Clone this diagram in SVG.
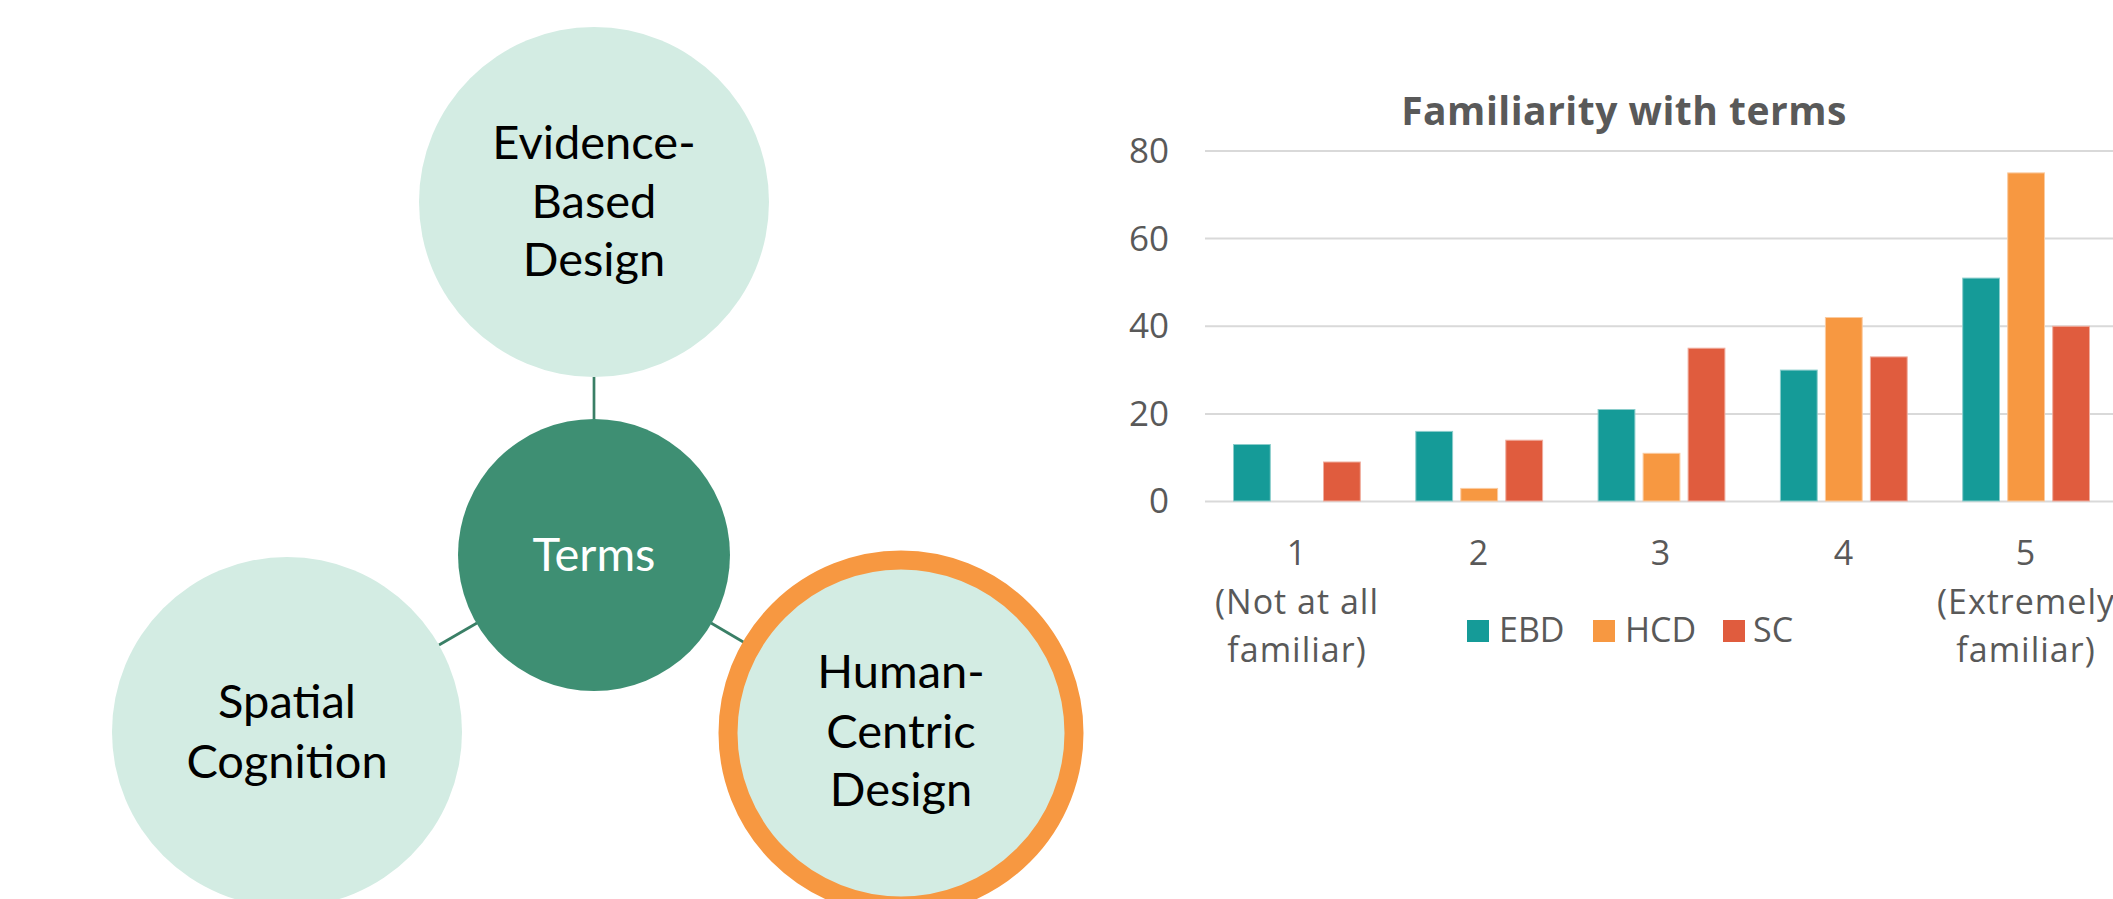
<svg xmlns="http://www.w3.org/2000/svg" width="2113" height="899" viewBox="0 0 2113 899">
<style>
.lt{fill:#D3ECE3}
.nt{font-family:Lato,"Open Sans","Liberation Sans",sans-serif;font-size:47px;fill:#000;text-anchor:middle}
.con{stroke:#3A7F66;stroke-width:2.7;fill:none}
.grid{stroke:#D9D9D9;stroke-width:2}
.ax{font-family:"Open Sans","Liberation Sans",sans-serif;font-size:34px;fill:#595959}
.ebd{fill:#159B98;stroke:#8ACDCB;stroke-width:1}
.hcd{fill:#F79841;stroke:#FBCBA0;stroke-width:1}
.sc{fill:#E05C3E;stroke:#F0AD9E;stroke-width:1}
</style>
<rect width="2113" height="899" fill="#fff"/>
<g id="connectors">
<line class="con" x1="594" y1="377" x2="594" y2="420"/>
<line class="con" x1="477" y1="623" x2="439" y2="645"/>
<line class="con" x1="711" y1="623" x2="745" y2="643"/>
</g>
<g id="node-ebd">
<circle class="lt" cx="594" cy="202" r="175"/>
<text class="nt" x="594" y="159">Evidence-</text>
<text class="nt" x="594" y="218">Based</text>
<text class="nt" x="594" y="276">Design</text>
</g>
<g id="node-terms">
<circle cx="594" cy="555" r="136" fill="#3E8F73"/>
<text class="nt" x="594" y="571" style="fill:#fff">Terms</text>
</g>
<g id="node-sc">
<circle class="lt" cx="287" cy="732" r="175"/>
<text class="nt" x="287" y="718">Spatial</text>
<text class="nt" x="287" y="778">Cognition</text>
</g>
<g id="node-hcd">
<circle class="lt" cx="901" cy="733" r="173" stroke="#F79841" stroke-width="19"/>
<text class="nt" x="901" y="688">Human-</text>
<text class="nt" x="901" y="748">Centric</text>
<text class="nt" x="901" y="806">Design</text>
</g>
<g id="chart">
<text x="1624" y="125" font-family="'Open Sans','Liberation Sans',sans-serif" font-size="39" font-weight="bold" fill="#595959" text-anchor="middle" letter-spacing="0.5">Familiarity with terms</text>
<g id="grid">
<line class="grid" x1="1205" y1="151" x2="2113" y2="151"/>
<line class="grid" x1="1205" y1="238.6" x2="2113" y2="238.6"/>
<line class="grid" x1="1205" y1="326.2" x2="2113" y2="326.2"/>
<line class="grid" x1="1205" y1="413.9" x2="2113" y2="413.9"/>
<line class="grid" x1="1205" y1="501.5" x2="2113" y2="501.5"/>
</g>
<g id="yaxis" class="ax" text-anchor="end" style="font-size:35px">
<text x="1169" y="163">80</text>
<text x="1169" y="250.5">60</text>
<text x="1169" y="338">40</text>
<text x="1169" y="425.5">20</text>
<text x="1169" y="513">0</text>
</g>
<g id="bars">
<rect class="ebd" x="1233.5" y="444.5" width="36.8" height="56.5"/>
<rect class="sc" x="1323.5" y="462" width="36.8" height="39"/>
<rect class="ebd" x="1415.8" y="431.4" width="36.8" height="69.6"/>
<rect class="hcd" x="1460.8" y="488.4" width="36.8" height="12.6"/>
<rect class="sc" x="1505.8" y="440.2" width="36.8" height="60.8"/>
<rect class="ebd" x="1598.1" y="409.5" width="36.8" height="91.5"/>
<rect class="hcd" x="1643.1" y="453.3" width="36.8" height="47.7"/>
<rect class="sc" x="1688.1" y="348.2" width="36.8" height="152.8"/>
<rect class="ebd" x="1780.4" y="370.1" width="36.8" height="130.9"/>
<rect class="hcd" x="1825.4" y="317.5" width="36.8" height="183.5"/>
<rect class="sc" x="1870.4" y="356.9" width="36.8" height="144.1"/>
<rect class="ebd" x="1962.7" y="278.1" width="36.8" height="222.9"/>
<rect class="hcd" x="2007.7" y="172.9" width="36.8" height="328.1"/>
<rect class="sc" x="2052.7" y="326.3" width="36.8" height="174.7"/>
</g>
<g id="xaxis" class="ax" text-anchor="middle" letter-spacing="1">
<text x="1297" y="565">1</text>
<text x="1297" y="614">(Not at all</text>
<text x="1297" y="662">familiar)</text>
<text x="1479" y="565">2</text>
<text x="1661" y="565">3</text>
<text x="1844" y="565">4</text>
<text x="2026" y="565">5</text>
<text x="2026" y="614">(Extremely</text>
<text x="2026" y="662">familiar)</text>
</g>
<g id="legend">
<rect x="1467" y="620" width="22" height="22" fill="#159B98"/>
<text class="ax" x="1499" y="642">EBD</text>
<rect x="1593" y="620" width="22" height="22" fill="#F79841"/>
<text class="ax" x="1625" y="642">HCD</text>
<rect x="1723" y="620" width="22" height="22" fill="#E05C3E"/>
<text class="ax" x="1753" y="642">SC</text>
</g>
</g>
</svg>
